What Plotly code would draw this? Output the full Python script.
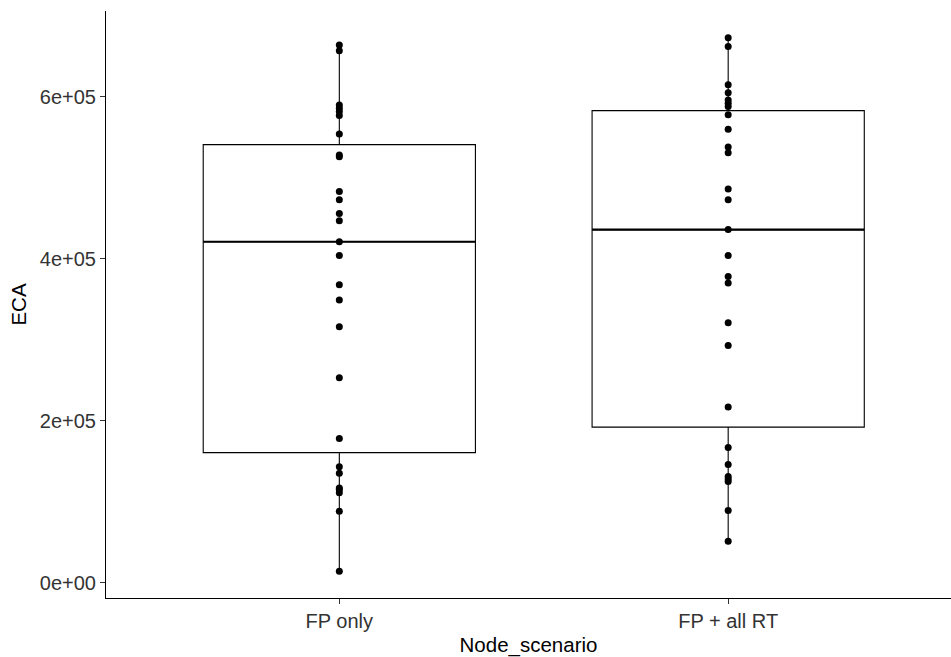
import numpy as np
import plotly.graph_objects as go

categories = ["FP only", "FP + all RT"]

fp_only = [664000, 657000, 590000, 586000, 582000, 577000, 554000, 528000, 526000,
           483000, 473000, 456000, 447000, 421000, 404000, 368000, 349000, 316000,
           253000, 178000, 143000, 135000, 117000, 115000, 111000, 88000, 14000]

fp_all_rt = [673000, 662000, 615000, 605000, 596000, 592000, 588000, 578000, 560000,
             538000, 531000, 486000, 473000, 436000, 404000, 378000, 370000, 321000,
             293000, 217000, 167000, 146000, 131000, 128000, 125000, 89000, 51000]

series = [fp_only, fp_all_rt]

y_tickvals = [0, 200000, 400000, 600000]
y_ticktext = ["0e+00", "2e+05", "4e+05", "6e+05"]

FONT = "Liberation Sans, Arial, sans-serif"
BOX_W = 0.7

fig = go.Figure()

for i, (cat, vals) in enumerate(zip(categories, series)):
    pos = i + 1
    v = np.array(vals, dtype=float)
    q1, med, q3 = np.percentile(v, [25, 50, 75])
    iqr = q3 - q1
    lo = v[v >= q1 - 1.5 * iqr].min()
    hi = v[v <= q3 + 1.5 * iqr].max()
    fig.add_trace(go.Box(
        x=[pos], q1=[q1], median=[med], q3=[q3], lowerfence=[lo], upperfence=[hi],
        width=BOX_W, fillcolor="white",
        line=dict(color="black", width=1.1), whiskerwidth=0,
        boxpoints=False, showlegend=False, hoverinfo="skip",
    ))
    fig.add_trace(go.Scatter(
        x=[pos - BOX_W / 2, pos + BOX_W / 2], y=[med, med], mode="lines",
        line=dict(color="black", width=2.2), showlegend=False, hoverinfo="skip",
    ))
    fig.add_trace(go.Scatter(
        x=[pos] * len(vals), y=vals, mode="markers",
        marker=dict(color="black", size=7), showlegend=False,
    ))

fig.update_layout(
    width=951, height=657,
    margin=dict(l=106, r=0, t=11, b=59),
    paper_bgcolor="white", plot_bgcolor="white",
    font=dict(family=FONT, color="black"),
    showlegend=False,
)

fig.update_xaxes(
    range=[0.4, 2.573],
    tickmode="array", tickvals=[1, 2], ticktext=categories,
    showgrid=False, zeroline=False,
    showline=True, linecolor="black", linewidth=1.1,
    ticks="outside", ticklen=5, tickcolor="#333333", tickwidth=1.1,
    tickfont=dict(family=FONT, size=20, color="#333333"),
    title=dict(text="Node_scenario", font=dict(family=FONT, size=20.5, color="black"), standoff=8),
)
fig.update_yaxes(
    range=[-19000, 706000],
    tickmode="array", tickvals=y_tickvals, ticktext=y_ticktext,
    showgrid=False, zeroline=False,
    showline=True, linecolor="black", linewidth=1.1,
    ticks="outside", ticklen=5, tickcolor="#333333", tickwidth=1.1,
    tickfont=dict(family=FONT, size=20, color="#333333"),
    title=dict(text="ECA", font=dict(family=FONT, size=20.5, color="black"), standoff=7),
)

fig.write_html("out.html")
